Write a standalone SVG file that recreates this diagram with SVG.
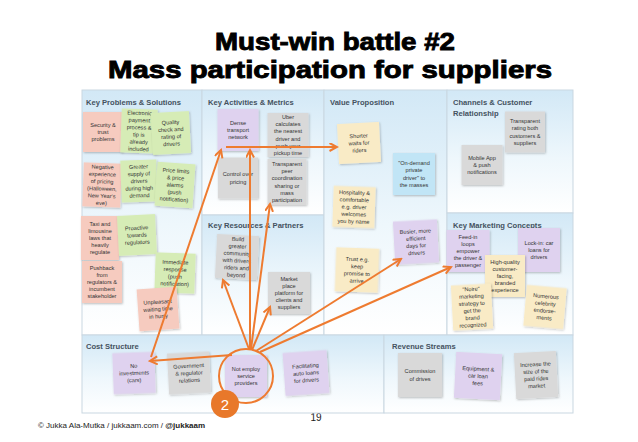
<svg xmlns="http://www.w3.org/2000/svg" width="638" height="442" viewBox="0 0 638 442">
<style>
.title{font-family:"Liberation Sans",Arial,sans-serif;font-weight:bold;font-size:24px;fill:#000;stroke:#000;stroke-width:0.9;text-anchor:middle}
.hdr{font-family:"Liberation Sans",Arial,sans-serif;font-weight:bold;font-size:7.6px;fill:#44525f}
.cell{fill:url(#cellgrad);stroke:#c9d7e1;stroke-width:1}
.note rect{stroke:none;filter:url(#sh)}
.note text{font-family:"Liberation Sans Narrow","Liberation Sans",Arial,sans-serif;font-size:5.6px;fill:#333;text-anchor:middle}
.pink rect{fill:#f6cbbf}
.green rect{fill:#d6ecb6}
.purple rect{fill:#dfd2ef}
.gray rect{fill:#d9d9d9}
.yellow rect{fill:#f9ebc6}
.blue rect{fill:#c1e5f6}
.arrow{fill:none;stroke:#ee7b30;stroke-width:2;marker-end:url(#ah)}
.foot{font-family:"Liberation Sans",Arial,sans-serif;font-size:8px;fill:#222}
</style>
<defs>
<linearGradient id="cellgrad" x1="0" y1="0" x2="0" y2="1">
<stop offset="0" stop-color="#d2e8f6"/>
<stop offset="0.55" stop-color="#eef7fc"/>
<stop offset="1" stop-color="#ffffff"/>
</linearGradient>
<filter id="sh" x="-20%" y="-20%" width="140%" height="140%">
<feDropShadow dx="0.8" dy="1" stdDeviation="0.8" flood-color="#000" flood-opacity="0.25"/>
</filter>
<marker id="ah" markerUnits="userSpaceOnUse" markerWidth="10" markerHeight="10" refX="8" refY="4.5" orient="auto">
<path d="M0.5,0.5 L8,4.5 L0.5,8.5" fill="none" stroke="#ee7b30" stroke-width="2"/>
</marker>
</defs>
<rect width="638" height="442" fill="#ffffff"/>

<text class="title" x="335" y="50" textLength="240" lengthAdjust="spacingAndGlyphs">Must-win battle #2</text>
<text class="title" x="330" y="78" textLength="444" lengthAdjust="spacingAndGlyphs">Mass participation for suppliers</text>

<text x="316" y="421" font-family="Liberation Sans,Arial,sans-serif" font-size="10" fill="#222" text-anchor="middle">19</text>

<g id="canvas">
<rect class="cell" x="82" y="90" width="120" height="245"/>
<rect class="cell" x="202" y="90" width="122" height="125"/>
<rect class="cell" x="202" y="215" width="122" height="120"/>
<rect class="cell" x="324" y="90" width="123" height="245"/>
<rect class="cell" x="447" y="90" width="126" height="123"/>
<rect class="cell" x="447" y="213" width="126" height="122"/>
<rect class="cell" x="82" y="335" width="302" height="78"/>
<rect class="cell" x="384" y="335" width="189" height="78"/>
<text class="hdr" x="86" y="105">Key Problems &amp; Solutions</text>
<text class="hdr" x="208" y="105">Key Activities &amp; Metrics</text>
<text class="hdr" x="330" y="105">Value Proposition</text>
<text class="hdr" x="453" y="105">Channels &amp; Customer</text>
<text class="hdr" x="453" y="116">Relationship</text>
<text class="hdr" x="208" y="228">Key Resources &amp; Partners</text>
<text class="hdr" x="453" y="228">Key Marketing Concepts</text>
<text class="hdr" x="86" y="349">Cost Structure</text>
<text class="hdr" x="392" y="349">Revenue Streams</text>
</g>

<g id="n-security" class="note pink" transform="translate(103,132)"><rect x="-20" y="-20" width="40" height="40"/><text y="-5.2"><tspan x="0">Security &amp;</tspan><tspan x="0" dy="7.2">trust</tspan><tspan x="0" dy="7.2">problems</tspan></text></g>
<g id="n-electronic" class="note green" transform="translate(139,131) rotate(2)"><rect x="-18" y="-22" width="36" height="44"/><text y="-16"><tspan x="0">Electronic</tspan><tspan x="0" dy="7.2">payment</tspan><tspan x="0" dy="7.2">process &amp;</tspan><tspan x="0" dy="7.2">tip is</tspan><tspan x="0" dy="7.2">already</tspan><tspan x="0" dy="7.2">included</tspan></text></g>
<g id="n-quality" class="note green" transform="translate(171,133) rotate(-3)"><rect x="-19" y="-21" width="38" height="42"/><text y="-8.8"><tspan x="0">Quality</tspan><tspan x="0" dy="7.2">check and</tspan><tspan x="0" dy="7.2">rating of</tspan><tspan x="0" dy="7.2">drivers</tspan></text></g>
<g id="n-negative" class="note pink" transform="translate(102,185) rotate(2)"><rect x="-19" y="-22" width="38" height="44"/><text y="-16"><tspan x="0">Negative</tspan><tspan x="0" dy="7.2">experience</tspan><tspan x="0" dy="7.2">of pricing</tspan><tspan x="0" dy="7.2">(Halloween,</tspan><tspan x="0" dy="7.2">New Year's</tspan><tspan x="0" dy="7.2">eve)</tspan></text></g>
<g id="n-greater" class="note green" transform="translate(139,181) rotate(-2)"><rect x="-18" y="-21" width="36" height="42"/><text y="-12.4"><tspan x="0">Greater</tspan><tspan x="0" dy="7.2">supply of</tspan><tspan x="0" dy="7.2">drivers</tspan><tspan x="0" dy="7.2">during high</tspan><tspan x="0" dy="7.2">demand</tspan></text></g>
<g id="n-price" class="note green" transform="translate(175,185) rotate(4)"><rect x="-19" y="-22" width="38" height="44"/><text y="-12.4"><tspan x="0">Price limits</tspan><tspan x="0" dy="7.2">&amp; price</tspan><tspan x="0" dy="7.2">alarms</tspan><tspan x="0" dy="7.2">(push</tspan><tspan x="0" dy="7.2">notification)</tspan></text></g>
<g id="n-taxi" class="note pink" transform="translate(100,238)"><rect x="-19" y="-22" width="38" height="44"/><text y="-12.4"><tspan x="0">Taxi and</tspan><tspan x="0" dy="7.2">limousine</tspan><tspan x="0" dy="7.2">laws that</tspan><tspan x="0" dy="7.2">heavily</tspan><tspan x="0" dy="7.2">regulate</tspan></text></g>
<g id="n-proactive" class="note green" transform="translate(137,235) rotate(-3)"><rect x="-19" y="-20" width="38" height="40"/><text y="-5.2"><tspan x="0">Proactive</tspan><tspan x="0" dy="7.2">towards</tspan><tspan x="0" dy="7.2">regulators</tspan></text></g>
<g id="n-pushback" class="note pink" transform="translate(102,282)"><rect x="-20" y="-21" width="40" height="42"/><text y="-12.4"><tspan x="0">Pushback</tspan><tspan x="0" dy="7.2">from</tspan><tspan x="0" dy="7.2">regulators &amp;</tspan><tspan x="0" dy="7.2">incumbent</tspan><tspan x="0" dy="7.2">stakeholder</tspan></text></g>
<g id="n-immediate" class="note green" transform="translate(175,273) rotate(2)"><rect x="-20" y="-20" width="40" height="40"/><text y="-8.8"><tspan x="0">Immediate</tspan><tspan x="0" dy="7.2">response</tspan><tspan x="0" dy="7.2">(push</tspan><tspan x="0" dy="7.2">notification)</tspan></text></g>
<g id="n-unpleasant" class="note pink" transform="translate(158,309) rotate(-4)"><rect x="-20" y="-21" width="40" height="42"/><text y="-5.2"><tspan x="0">Unpleasant</tspan><tspan x="0" dy="7.2">waiting time</tspan><tspan x="0" dy="7.2">in hurry</tspan></text></g>

<g id="n-dense" class="note purple" transform="translate(238,130)"><rect x="-20.5" y="-21" width="41" height="42"/><text y="-5.2"><tspan x="0">Dense</tspan><tspan x="0" dy="7.2">transport</tspan><tspan x="0" dy="7.2">network</tspan></text></g>
<g id="n-uber" class="note gray" transform="translate(288,135)"><rect x="-20.5" y="-22" width="41" height="44"/><text y="-16"><tspan x="0">Uber</tspan><tspan x="0" dy="7.2">calculates</tspan><tspan x="0" dy="7.2">the nearest</tspan><tspan x="0" dy="7.2">driver and</tspan><tspan x="0" dy="7.2">push your</tspan><tspan x="0" dy="7.2">pickup time</tspan></text></g>
<g id="n-control" class="note gray" transform="translate(238,178)"><rect x="-20" y="-20.5" width="40" height="41"/><text y="-1.6"><tspan x="0">Control over</tspan><tspan x="0" dy="7.2">pricing</tspan></text></g>
<g id="n-peer" class="note gray" transform="translate(287,182)"><rect x="-19.5" y="-23" width="39" height="46"/><text y="-16"><tspan x="0">Transparent</tspan><tspan x="0" dy="7.2">peer</tspan><tspan x="0" dy="7.2">coordination</tspan><tspan x="0" dy="7.2">sharing or</tspan><tspan x="0" dy="7.2">mass</tspan><tspan x="0" dy="7.2">participation</tspan></text></g>
<g id="n-build" class="note gray" transform="translate(237,257) rotate(3)"><rect x="-21" y="-22" width="42" height="44"/><text y="-16"><tspan x="0">Build</tspan><tspan x="0" dy="7.2">greater</tspan><tspan x="0" dy="7.2">community</tspan><tspan x="0" dy="7.2">with drivers</tspan><tspan x="0" dy="7.2">riders and</tspan><tspan x="0" dy="7.2">beyond</tspan></text></g>
<g id="n-market" class="note gray" transform="translate(289,293)"><rect x="-21" y="-21" width="42" height="42"/><text y="-12.4"><tspan x="0">Market</tspan><tspan x="0" dy="7.2">place</tspan><tspan x="0" dy="7.2">platform for</tspan><tspan x="0" dy="7.2">clients and</tspan><tspan x="0" dy="7.2">suppliers</tspan></text></g>

<g id="n-shorter" class="note yellow" transform="translate(359,143) rotate(-3)"><rect x="-21" y="-20" width="42" height="40"/><text y="-5.2"><tspan x="0">Shorter</tspan><tspan x="0" dy="7.2">waits for</tspan><tspan x="0" dy="7.2">riders</tspan></text></g>
<g id="n-ondemand" class="note blue" transform="translate(414,174)"><rect x="-21" y="-21" width="42" height="42"/><text y="-8.8"><tspan x="0">"On-demand</tspan><tspan x="0" dy="7.2">private</tspan><tspan x="0" dy="7.2">driver" to</tspan><tspan x="0" dy="7.2">the masses</tspan></text></g>
<g id="n-hospitality" class="note yellow" transform="translate(354,207) rotate(2)"><rect x="-21" y="-20.5" width="42" height="41"/><text y="-12.4"><tspan x="0">Hospitality &amp;</tspan><tspan x="0" dy="7.2">comfortable</tspan><tspan x="0" dy="7.2">e.g. driver</tspan><tspan x="0" dy="7.2">welcomes</tspan><tspan x="0" dy="7.2">you by name</tspan></text></g>
<g id="n-busier" class="note purple" transform="translate(416,242) rotate(-3)"><rect x="-22" y="-21.5" width="44" height="43"/><text y="-8.8"><tspan x="0">Busier, more</tspan><tspan x="0" dy="7.2">efficient</tspan><tspan x="0" dy="7.2">days for</tspan><tspan x="0" dy="7.2">drivers</tspan></text></g>
<g id="n-trust" class="note yellow" transform="translate(357,270) rotate(2)"><rect x="-21.5" y="-22" width="43" height="44"/><text y="-8.8"><tspan x="0">Trust e.g.</tspan><tspan x="0" dy="7.2">keep</tspan><tspan x="0" dy="7.2">promise to</tspan><tspan x="0" dy="7.2">arrive</tspan></text></g>

<g id="n-rating" class="note gray" transform="translate(525,132)"><rect x="-20" y="-20.5" width="40" height="41"/><text y="-8.8"><tspan x="0">Transparent</tspan><tspan x="0" dy="7.2">rating both</tspan><tspan x="0" dy="7.2">customers &amp;</tspan><tspan x="0" dy="7.2">suppliers</tspan></text></g>
<g id="n-mobile" class="note gray" transform="translate(482,165)"><rect x="-20.5" y="-20" width="41" height="40"/><text y="-5.2"><tspan x="0">Mobile App</tspan><tspan x="0" dy="7.2">&amp; push</tspan><tspan x="0" dy="7.2">notifications</tspan></text></g>

<g id="n-feedin" class="note purple" transform="translate(468,251)"><rect x="-21.5" y="-21" width="43" height="42"/><text y="-12.4"><tspan x="0">Feed-in</tspan><tspan x="0" dy="7.2">loops</tspan><tspan x="0" dy="7.2">empower</tspan><tspan x="0" dy="7.2">the driver &amp;</tspan><tspan x="0" dy="7.2">passenger</tspan></text></g>
<g id="n-lockin" class="note purple" transform="translate(539,250)"><rect x="-21" y="-22" width="42" height="44"/><text y="-5.2"><tspan x="0">Lock-in: car</tspan><tspan x="0" dy="7.2">loans for</tspan><tspan x="0" dy="7.2">drivers</tspan></text></g>
<g id="n-highquality" class="note yellow" transform="translate(505,276)"><rect x="-20" y="-21" width="40" height="42"/><text y="-12.4"><tspan x="0">High-quality</tspan><tspan x="0" dy="7.2">customer-</tspan><tspan x="0" dy="7.2">facing,</tspan><tspan x="0" dy="7.2">branded</tspan><tspan x="0" dy="7.2">experience</tspan></text></g>
<g id="n-noire" class="note yellow" transform="translate(472,307) rotate(-3)"><rect x="-20" y="-22.5" width="40" height="45"/><text y="-16"><tspan x="0">"Noire"</tspan><tspan x="0" dy="7.2">marketing</tspan><tspan x="0" dy="7.2">strategy to</tspan><tspan x="0" dy="7.2">get the</tspan><tspan x="0" dy="7.2">brand</tspan><tspan x="0" dy="7.2">recognized</tspan></text></g>
<g id="n-numerous" class="note yellow" transform="translate(545,307) rotate(5)"><rect x="-20" y="-20.5" width="40" height="41"/><text y="-8.8"><tspan x="0">Numerous</tspan><tspan x="0" dy="7.2">celebrity</tspan><tspan x="0" dy="7.2">endorse-</tspan><tspan x="0" dy="7.2">ments</tspan></text></g>

<g id="n-noinvest" class="note purple" transform="translate(134,373) rotate(-2)"><rect x="-21" y="-20.5" width="42" height="41"/><text y="-5.2"><tspan x="0">No</tspan><tspan x="0" dy="7.2">investments</tspan><tspan x="0" dy="7.2">(cars)</tspan></text></g>
<g id="n-government" class="note gray" transform="translate(189,373) rotate(-3)"><rect x="-21" y="-20.5" width="42" height="41"/><text y="-5.2"><tspan x="0">Government</tspan><tspan x="0" dy="7.2">&amp; regulator</tspan><tspan x="0" dy="7.2">relations</tspan></text></g>
<g id="n-notemploy" class="note purple" transform="translate(246,376)"><rect x="-21" y="-21" width="42" height="42"/><text y="-5.2"><tspan x="0">Not employ</tspan><tspan x="0" dy="7.2">service</tspan><tspan x="0" dy="7.2">providers</tspan></text></g>
<g id="n-facilitating" class="note purple" transform="translate(306,373) rotate(-4)"><rect x="-22" y="-21.5" width="44" height="43"/><text y="-5.2"><tspan x="0">Facilitating</tspan><tspan x="0" dy="7.2">auto loans</tspan><tspan x="0" dy="7.2">for drivers</tspan></text></g>
<g id="n-commission" class="note gray" transform="translate(420,375)"><rect x="-22" y="-22" width="44" height="44"/><text y="-1.6"><tspan x="0">Commission</tspan><tspan x="0" dy="7.2">of drives</tspan></text></g>
<g id="n-equipment" class="note purple" transform="translate(478,376) rotate(3)"><rect x="-23" y="-23" width="46" height="46"/><text y="-5.2"><tspan x="0">Equipment &amp;</tspan><tspan x="0" dy="7.2">car loan</tspan><tspan x="0" dy="7.2">fees</tspan></text></g>
<g id="n-increase" class="note gray" transform="translate(536,375) rotate(-3)"><rect x="-21" y="-23" width="42" height="46"/><text y="-8.8"><tspan x="0">Increase the</tspan><tspan x="0" dy="7.2">size of the</tspan><tspan x="0" dy="7.2">paid rides</tspan><tspan x="0" dy="7.2">market</tspan></text></g>

<g id="connectors">
<path class="arrow" d="M232,355 L150,361"/>
<path class="arrow" d="M151,357 L221,150"/>
<path class="arrow" d="M226,147 L337,147"/>
<path class="arrow" d="M250,349 L250,150"/>
<path class="arrow" d="M251,349 L270,204"/>
<path class="arrow" d="M249,349 L223,280"/>
<path class="arrow" d="M252,350 L270,307"/>
<path class="arrow" d="M256,351 L401,259"/>
<path class="arrow" d="M260,352 L451,267"/>
</g>

<g id="highlight">
<circle cx="246" cy="376" r="27" fill="none" stroke="#ee7b30" stroke-width="2"/>
<circle cx="225" cy="404" r="14" fill="#e8782a"/>
<text x="225" y="409.5" font-family="Liberation Sans,Arial,sans-serif" font-size="15" fill="#ffffff" text-anchor="middle">2</text>
</g>

<text class="foot" x="38" y="428">© Jukka Ala-Mutka / jukkaam.com / <tspan font-weight="bold">@jukkaam</tspan></text>
</svg>
